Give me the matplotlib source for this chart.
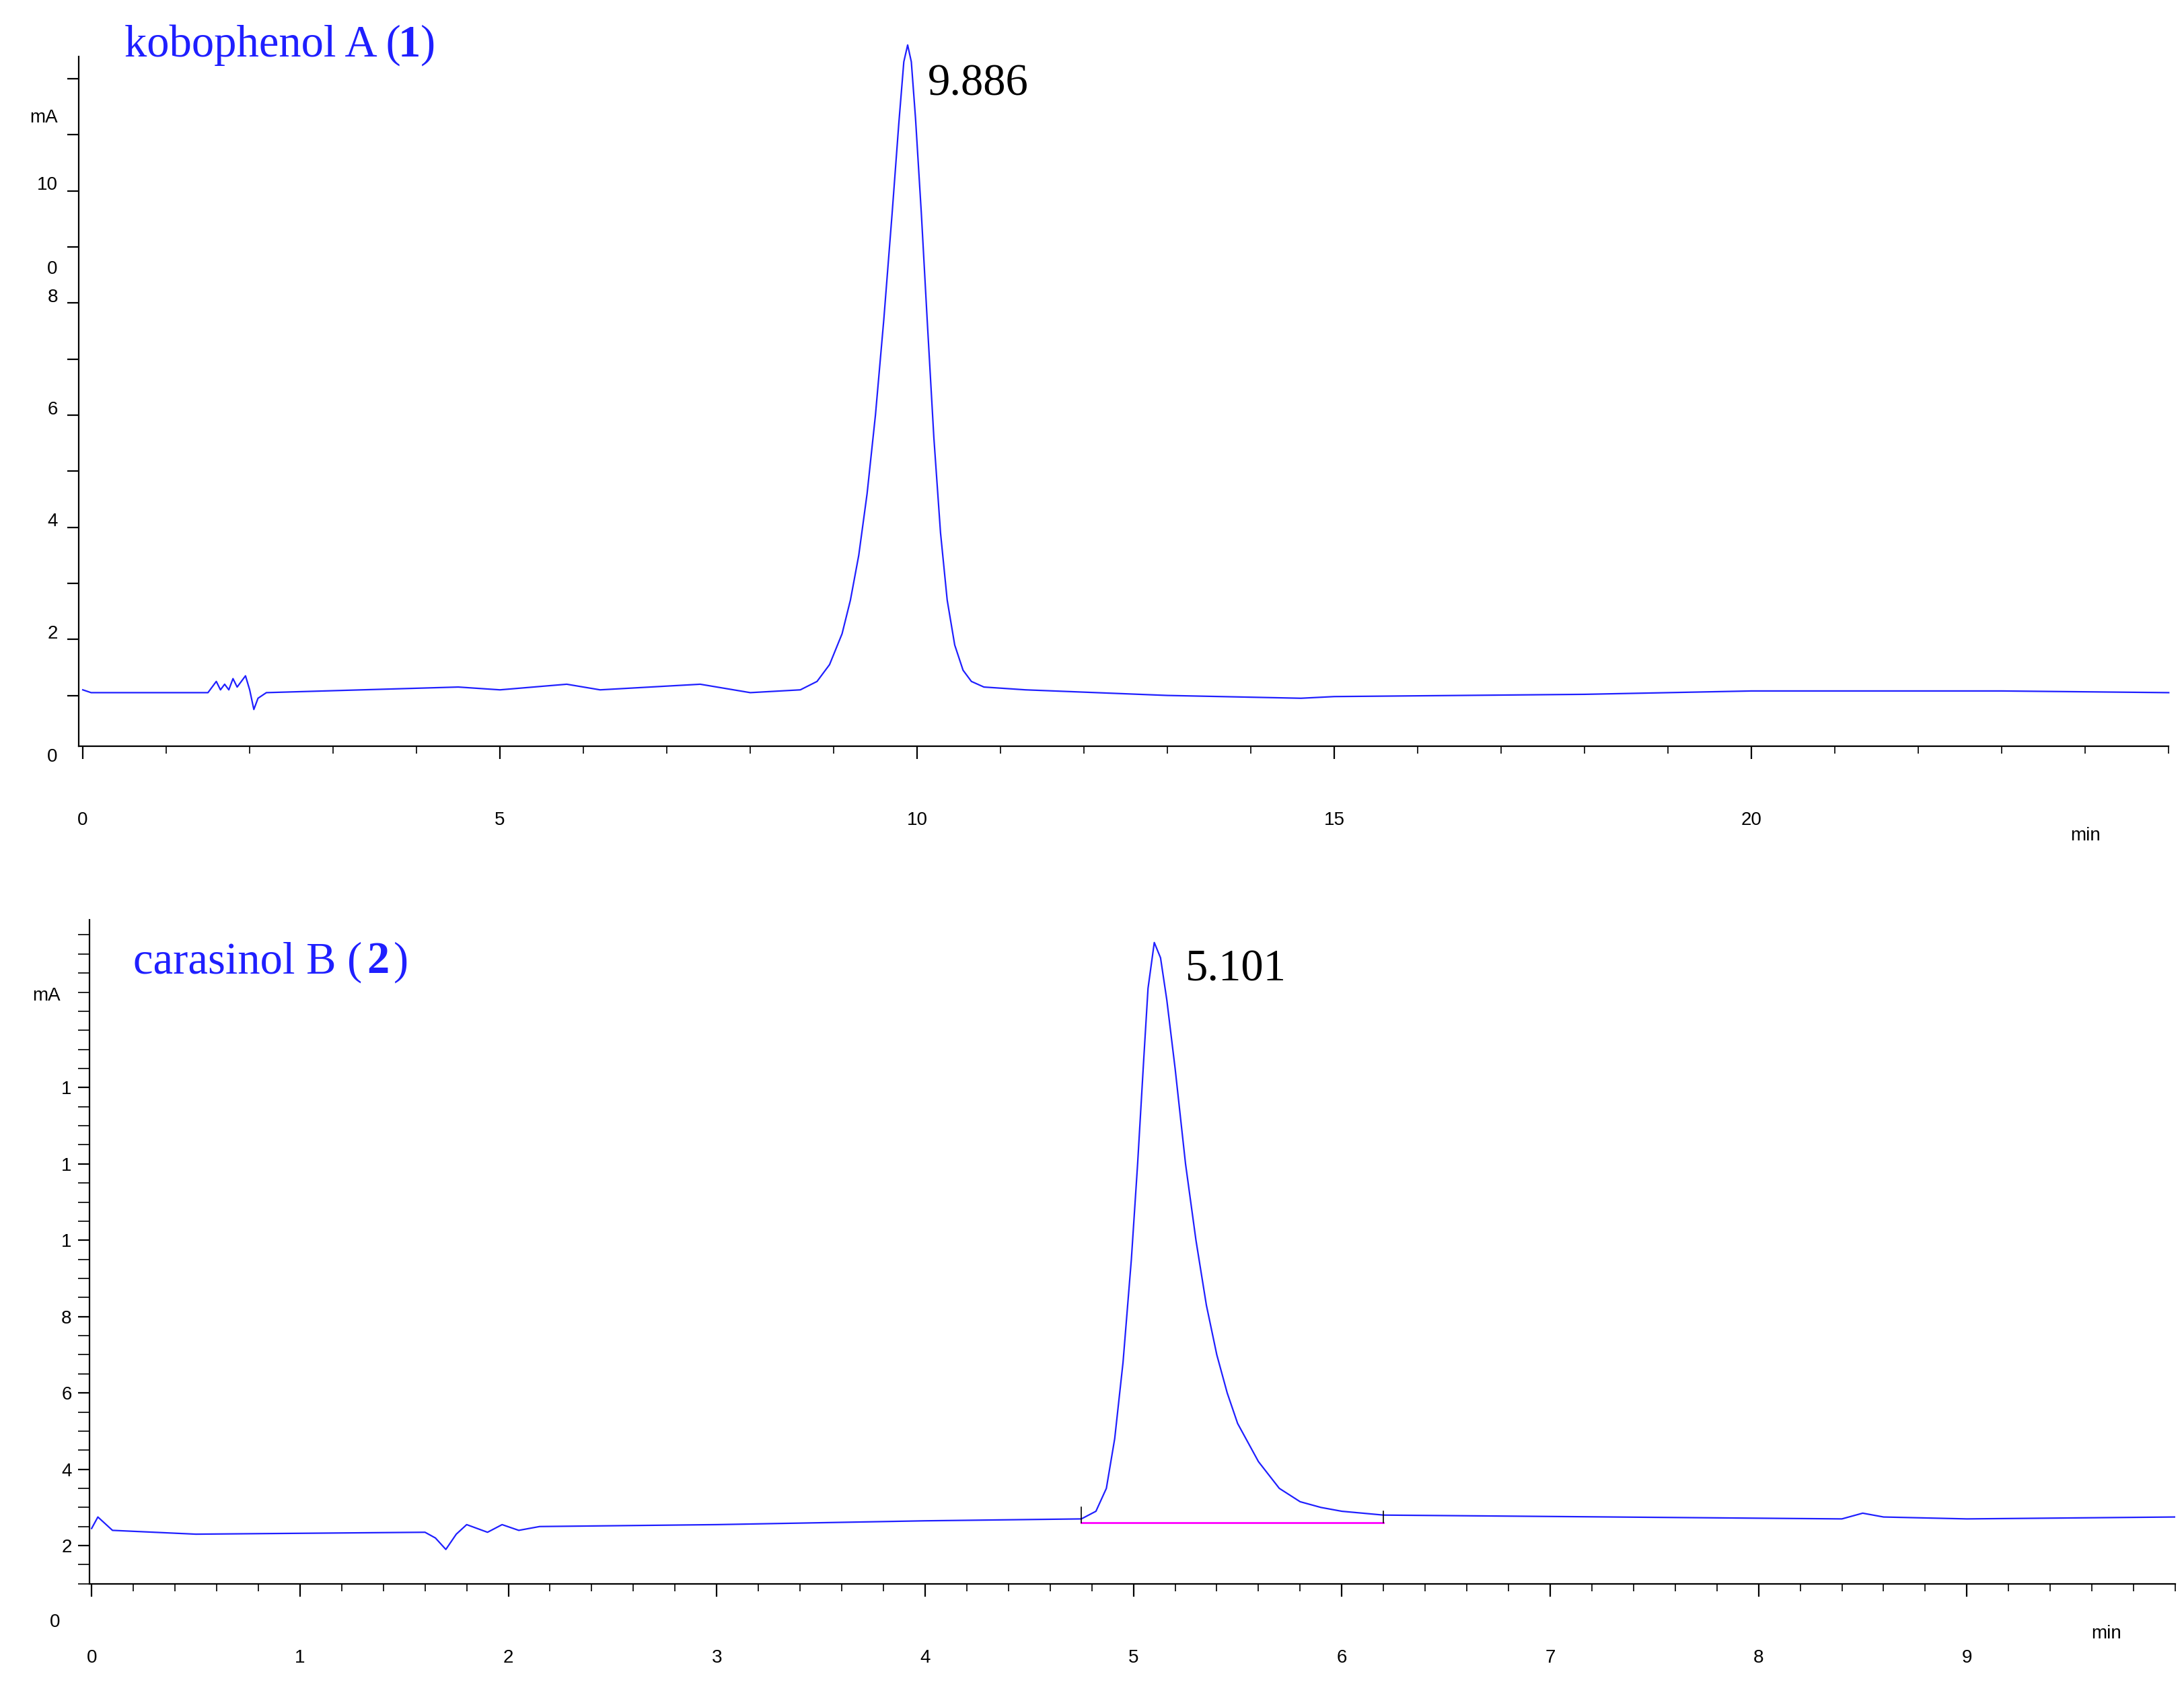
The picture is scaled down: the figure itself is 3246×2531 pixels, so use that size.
import matplotlib.pyplot as plt
from matplotlib.ticker import MultipleLocator

plt.rcParams['font.family'] = ['Liberation Sans', 'DejaVu Sans']

# kobophenol A (1) trace: time (min), signal (mAU)
t1 = [0, 0.1, 1.5, 1.6, 1.65, 1.7, 1.75, 1.8, 1.85, 1.95, 2.0, 2.05, 2.1, 2.2, 4.5, 5.0,
      5.8, 6.2, 7.4, 8.0, 8.6, 8.8, 8.95, 9.1, 9.2, 9.3, 9.4, 9.5, 9.6, 9.7, 9.78, 9.84,
      9.886, 9.93, 9.98, 10.05, 10.12, 10.2, 10.28, 10.36, 10.45, 10.55, 10.65, 10.8,
      11.3, 13, 14.6, 15, 18, 20, 23, 25]
y1 = [1.1, 1.05, 1.05, 1.25, 1.1, 1.2, 1.1, 1.3, 1.15, 1.35, 1.1, 0.75, 0.95, 1.05, 1.15, 1.1,
      1.2, 1.1, 1.2, 1.05, 1.1, 1.25, 1.55, 2.1, 2.7, 3.5, 4.6, 6.0, 7.7, 9.6, 11.2, 12.3,
      12.6, 12.3, 11.3, 9.6, 7.7, 5.6, 3.9, 2.7, 1.9, 1.45, 1.25, 1.15,
      1.1, 1.0, 0.95, 0.98, 1.02, 1.08, 1.08, 1.05]

# carasinol B (2) trace
t2 = [0, 0.03, 0.1, 0.5, 1.6, 1.65, 1.7, 1.75, 1.8, 1.9, 1.97, 2.05, 2.15, 3.0, 4.0, 4.75,
      4.82, 4.87, 4.91, 4.95, 4.99, 5.02, 5.05, 5.07, 5.10, 5.13, 5.16, 5.2, 5.25, 5.3,
      5.35, 5.4, 5.45, 5.5, 5.6, 5.7, 5.8, 5.9, 6.0, 6.2,
      8.4, 8.5, 8.6, 9.0, 10.0]
y2 = [2.45, 2.75, 2.4, 2.3, 2.35, 2.2, 1.9, 2.3, 2.55, 2.35, 2.55, 2.4, 2.5, 2.55, 2.65, 2.7,
      2.9, 3.5, 4.8, 6.8, 9.5, 12.0, 14.8, 16.6, 17.8, 17.4, 16.3, 14.5, 12.0, 10.0,
      8.3, 7.0, 6.0, 5.2, 4.2, 3.5, 3.15, 3.0, 2.9, 2.8,
      2.7, 2.85, 2.75, 2.7, 2.75]
base2_t = [4.75, 6.2]
base2_y = [2.6, 2.6]

fig = plt.figure(figsize=(16.23, 12.655), dpi=200)
blue = '#1f1fff'
serif = 'Liberation Serif'


def style(ax, xminor):
    for s in ['top', 'right']:
        ax.spines[s].set_visible(False)
    ax.tick_params(axis='x', which='major', length=7, pad=28, labelsize=10)
    ax.tick_params(axis='x', which='minor', length=4)
    ax.tick_params(axis='y', which='both', length=6, labelsize=10)
    ax.xaxis.set_minor_locator(MultipleLocator(xminor))


# top panel
ax1 = fig.add_axes([0.036, 0.562, 0.957, 0.405])
ax1.plot(t1, y1, color=blue, lw=0.8, clip_on=False)
ax1.set_xlim(-0.05, 25)
ax1.set_ylim(0.1, 12.4)
ax1.set_xticks([0, 5, 10, 15, 20])
ax1.set_yticks(range(1, 13))
ax1.set_yticklabels([''] * 12)
style(ax1, 1)
for v, s in [(2, '2'), (4, '4'), (6, '6'), (8, '8'), (10, '10')]:
    ax1.text(-0.3, v + 0.1, s, ha='right', va='center', fontsize=10)
ax1.text(-0.3, 11.3, 'mA', ha='right', va='center', fontsize=10)
ax1.text(-0.3, 8.6, '0', ha='right', va='center', fontsize=10)
ax1.text(-0.3, -0.1, '0', ha='right', va='center', fontsize=10)
ax1.text(24.0, -1.5, 'min', ha='center', va='center', fontsize=10)
ax1.text(0.5, 12.4, 'kobophenol A (', color=blue, fontsize=24, family=serif)
ax1.text(3.78, 12.4, '1', color=blue, fontsize=24, family=serif, weight='bold')
ax1.text(4.05, 12.4, ')', color=blue, fontsize=24, family=serif)
ax1.text(10.13, 11.7, '9.886', fontsize=24, family=serif)

# bottom panel
ax2 = fig.add_axes([0.041, 0.070, 0.955, 0.39])
ax2.plot(t2, y2, color=blue, lw=0.8)
ax2.plot(base2_t, base2_y, color='#ff00ff', lw=1.0)
ax2.plot([4.75, 4.75], [2.6, 3.0], color='k', lw=0.6)
ax2.plot([6.2, 6.2], [2.6, 2.9], color='k', lw=0.6)
ax2.set_xlim(-0.01, 10)
ax2.set_ylim(1.0, 18.4)
ax2.set_xticks(range(0, 10))
ax2.set_yticks([2, 4, 6, 8, 10, 12, 14])
ax2.set_yticklabels(['2', '4', '6', '8', '1', '1', '1'])
ax2.yaxis.set_minor_locator(MultipleLocator(0.5))
style(ax2, 0.2)
ax2.text(-0.15, 16.4, 'mA', ha='right', va='center', fontsize=10)
ax2.text(-0.15, 0.0, '0', ha='right', va='center', fontsize=10, clip_on=False)
ax2.text(9.67, -0.3, 'min', ha='center', va='center', fontsize=10)
ax2.text(0.2, 17.0, 'carasinol B (', color=blue, fontsize=24, family=serif)
ax2.text(1.32, 17.0, '2', color=blue, fontsize=24, family=serif, weight='bold')
ax2.text(1.45, 17.0, ')', color=blue, fontsize=24, family=serif)
ax2.text(5.25, 16.8, '5.101', fontsize=24, family=serif)

fig.savefig('out.png')
